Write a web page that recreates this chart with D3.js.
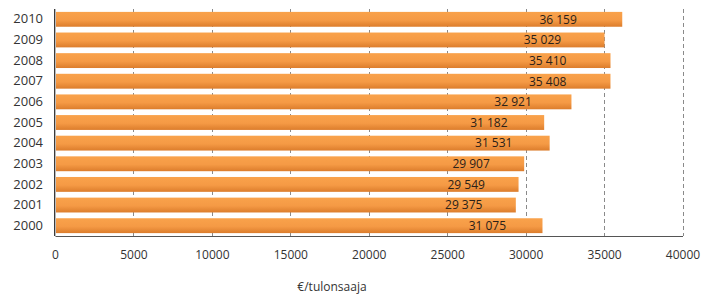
<!DOCTYPE html>
<html>
<head>
<meta charset="utf-8">
<script src="https://cdn.jsdelivr.net/npm/d3@7"></script>
<style>
  body { margin: 0; background: #fff; }
  svg { display: block; font-family: "Open Sans", sans-serif; }
</style>
</head>
<body>
<svg id="chart"></svg>
<script>
const years = ["2010", "2009", "2008", "2007", "2006", "2005", "2004", "2003", "2002", "2001", "2000"];
const values = [36159, 35029, 35410, 35408, 32921, 31182, 31531, 29907, 29549, 29375, 31075];
const xTicks = [0, 5000, 10000, 15000, 20000, 25000, 30000, 35000, 40000];
const axisTitle = "€/tulonsaaja";

const width = 701, height = 294;
const margin = { top: 9, right: 18.5, bottom: 58, left: 55 };

const svg = d3.select("#chart")
    .attr("width", width)
    .attr("height", height);

const defs = svg.append("defs");
const grad = defs.append("linearGradient")
    .attr("id", "barGrad")
    .attr("x1", 0).attr("y1", 0).attr("x2", 0).attr("y2", 1);
grad.append("stop").attr("offset", "0%").attr("stop-color", "#f9a24b");
grad.append("stop").attr("offset", "55%").attr("stop-color", "#f59a45");
grad.append("stop").attr("offset", "100%").attr("stop-color", "#dc7d2c");

const x = d3.scaleLinear()
    .domain([0, 40000])
    .range([margin.left, width - margin.right]);

const y = d3.scaleBand()
    .domain(years)
    .range([margin.top, height - margin.bottom])
    .paddingInner(0.28)
    .paddingOuter(0.14);

// dashed gridlines
svg.append("g")
    .selectAll("line")
    .data(xTicks.slice(1))
    .join("line")
    .attr("x1", d => Math.round(x(d)) + 0.5)
    .attr("x2", d => Math.round(x(d)) + 0.5)
    .attr("y1", margin.top)
    .attr("y2", height - margin.bottom)
    .attr("stroke", "#8a8a8a")
    .attr("stroke-width", 1)
    .attr("stroke-dasharray", "4,3");

// bars
svg.append("g")
    .selectAll("rect")
    .data(values)
    .join("rect")
    .attr("x", x(0))
    .attr("y", (d, i) => y(years[i]))
    .attr("width", d => x(d) - x(0))
    .attr("height", y.bandwidth())
    .attr("fill", "url(#barGrad)");

// value labels
svg.append("g")
    .selectAll("text")
    .data(values)
    .join("text")
    .attr("x", d => x(d * 0.887))
    .attr("y", (d, i) => y(years[i]) + y.bandwidth() / 2)
    .attr("dy", "0.36em")
    .attr("text-anchor", "middle")
    .attr("font-size", 12)
    .attr("fill", "#2b2118")
    .text(d => d3.format(",")(d).replace(",", " "));

// axes
const xAxis = svg.append("g")
    .attr("transform", `translate(0,${height - margin.bottom})`)
    .call(d3.axisBottom(x).tickValues(xTicks).tickFormat(d3.format("d")).tickSize(0).tickPadding(14));
xAxis.select(".domain").attr("stroke", "#555").attr("stroke-width", 1.2);
xAxis.selectAll("text").attr("font-size", 12).attr("fill", "#333").attr("font-family", "Open Sans, sans-serif");

const yAxis = svg.append("g")
    .attr("transform", `translate(${margin.left},0)`)
    .call(d3.axisLeft(y).tickSize(0).tickPadding(12));
yAxis.select(".domain").remove();
yAxis.selectAll("text").attr("font-size", 13).attr("fill", "#333").attr("font-family", "Open Sans, sans-serif");

// left axis line with light shadow
svg.append("line")
    .attr("x1", margin.left + 0.5).attr("x2", margin.left + 0.5)
    .attr("y1", margin.top).attr("y2", height - margin.bottom)
    .attr("stroke", "#bbb").attr("stroke-width", 1);
svg.append("line")
    .attr("x1", margin.left - 0.5).attr("x2", margin.left - 0.5)
    .attr("y1", margin.top).attr("y2", height - margin.bottom)
    .attr("stroke", "#3a3a3a").attr("stroke-width", 1);

svg.append("text")
    .attr("x", 332)
    .attr("y", 291)
    .attr("text-anchor", "middle")
    .attr("font-size", 12)
    .attr("fill", "#333")
    .text(axisTitle);
</script>
</body>
</html>
